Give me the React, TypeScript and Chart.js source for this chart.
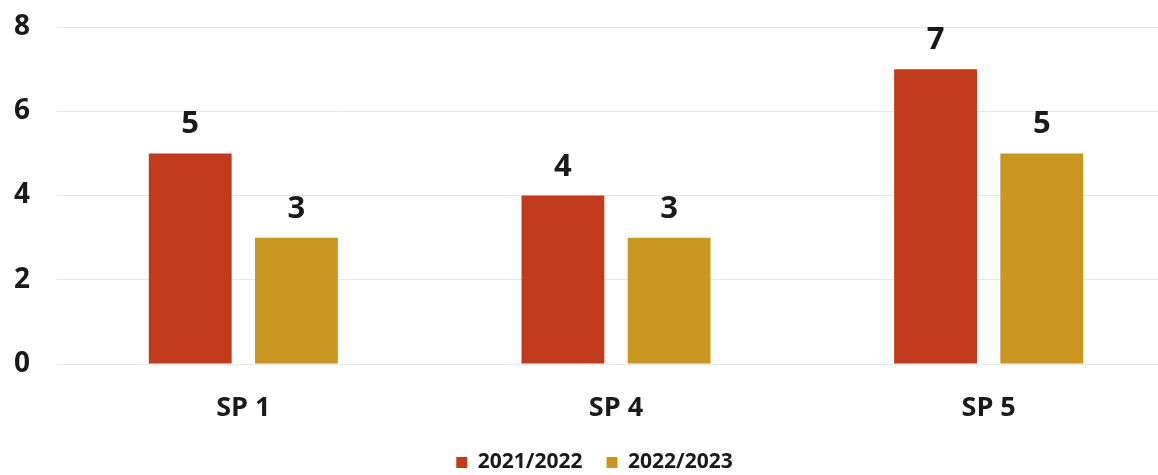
import React, { useEffect, useRef } from "react";
import { Chart, registerables } from "chart.js";

Chart.register(...registerables);

const categories = ["SP 1", "SP 4", "SP 5"];
const series2021 = [5, 4, 7];
const series2022 = [3, 3, 5];
const seriesNames = ["2021/2022", "2022/2023"];
const yTicks = [0, 2, 4, 6, 8];

const FONT = "'Open Sans', sans-serif";

const valueLabels = {
  id: "valueLabels",
  afterDatasetsDraw(chart: any) {
    const ctx = chart.ctx;
    ctx.save();
    ctx.font = `bold 31px ${FONT}`;
    ctx.fillStyle = "#1a1a1a";
    ctx.textAlign = "center";
    ctx.textBaseline = "alphabetic";
    chart.data.datasets.forEach((ds: any, i: number) => {
      const meta = chart.getDatasetMeta(i);
      meta.data.forEach((bar: any, j: number) => {
        ctx.fillText(String(ds.data[j]), bar.x, bar.y - 20);
      });
    });
    ctx.restore();
  },
};

export default function App() {
  const ref = useRef<HTMLCanvasElement>(null);
  useEffect(() => {
    if (!ref.current) return;
    const chart = new Chart(ref.current, {
      type: "bar",
      data: {
        labels: categories,
        datasets: [
          { label: seriesNames[0], data: series2021, backgroundColor: "#c23a1c" },
          { label: seriesNames[1], data: series2022, backgroundColor: "#c9961f" },
        ],
      },
      plugins: [valueLabels],
      options: {
        animation: false,
        responsive: true,
        maintainAspectRatio: false,
        layout: { padding: { top: 27, right: 0, left: 14, bottom: -8 } },
        datasets: { bar: { categoryPercentage: 0.57, barPercentage: 0.78 } },
        plugins: {
          tooltip: { enabled: false },
          legend: {
            position: "bottom",
            labels: {
              font: { family: FONT, weight: "bold", size: 21 },
              color: "#1a1a1a",
              boxWidth: 11,
              boxHeight: 11,
              padding: 24,
            },
          },
        },
        scales: {
          x: {
            grid: { display: false, drawTicks: false },
            border: { display: false },
            afterFit: (axis: any) => {
              axis.height = 64;
            },
            ticks: {
              font: { family: FONT, weight: "bold", size: 27 },
              color: "#1a1a1a",
              padding: 28,
            },
          },
          y: {
            min: 0,
            max: 8,
            afterBuildTicks: (axis: any) => {
              axis.ticks = yTicks.map((v) => ({ value: v }));
            },
            afterFit: (axis: any) => {
              axis.width = 43;
            },
            grid: { color: "#e8e8e8", drawTicks: false },
            border: { display: false },
            ticks: {
              font: { family: FONT, weight: "bold", size: 28 },
              color: "#1a1a1a",
              padding: 0,
              crossAlign: "far",
            },
          },
        },
      },
    });
    return () => chart.destroy();
  }, []);
  return (
    <div style={{ position: "fixed", left: 0, top: 0, width: 1175, height: 475, background: "#fff" }}>
      <canvas ref={ref} />
    </div>
  );
}
